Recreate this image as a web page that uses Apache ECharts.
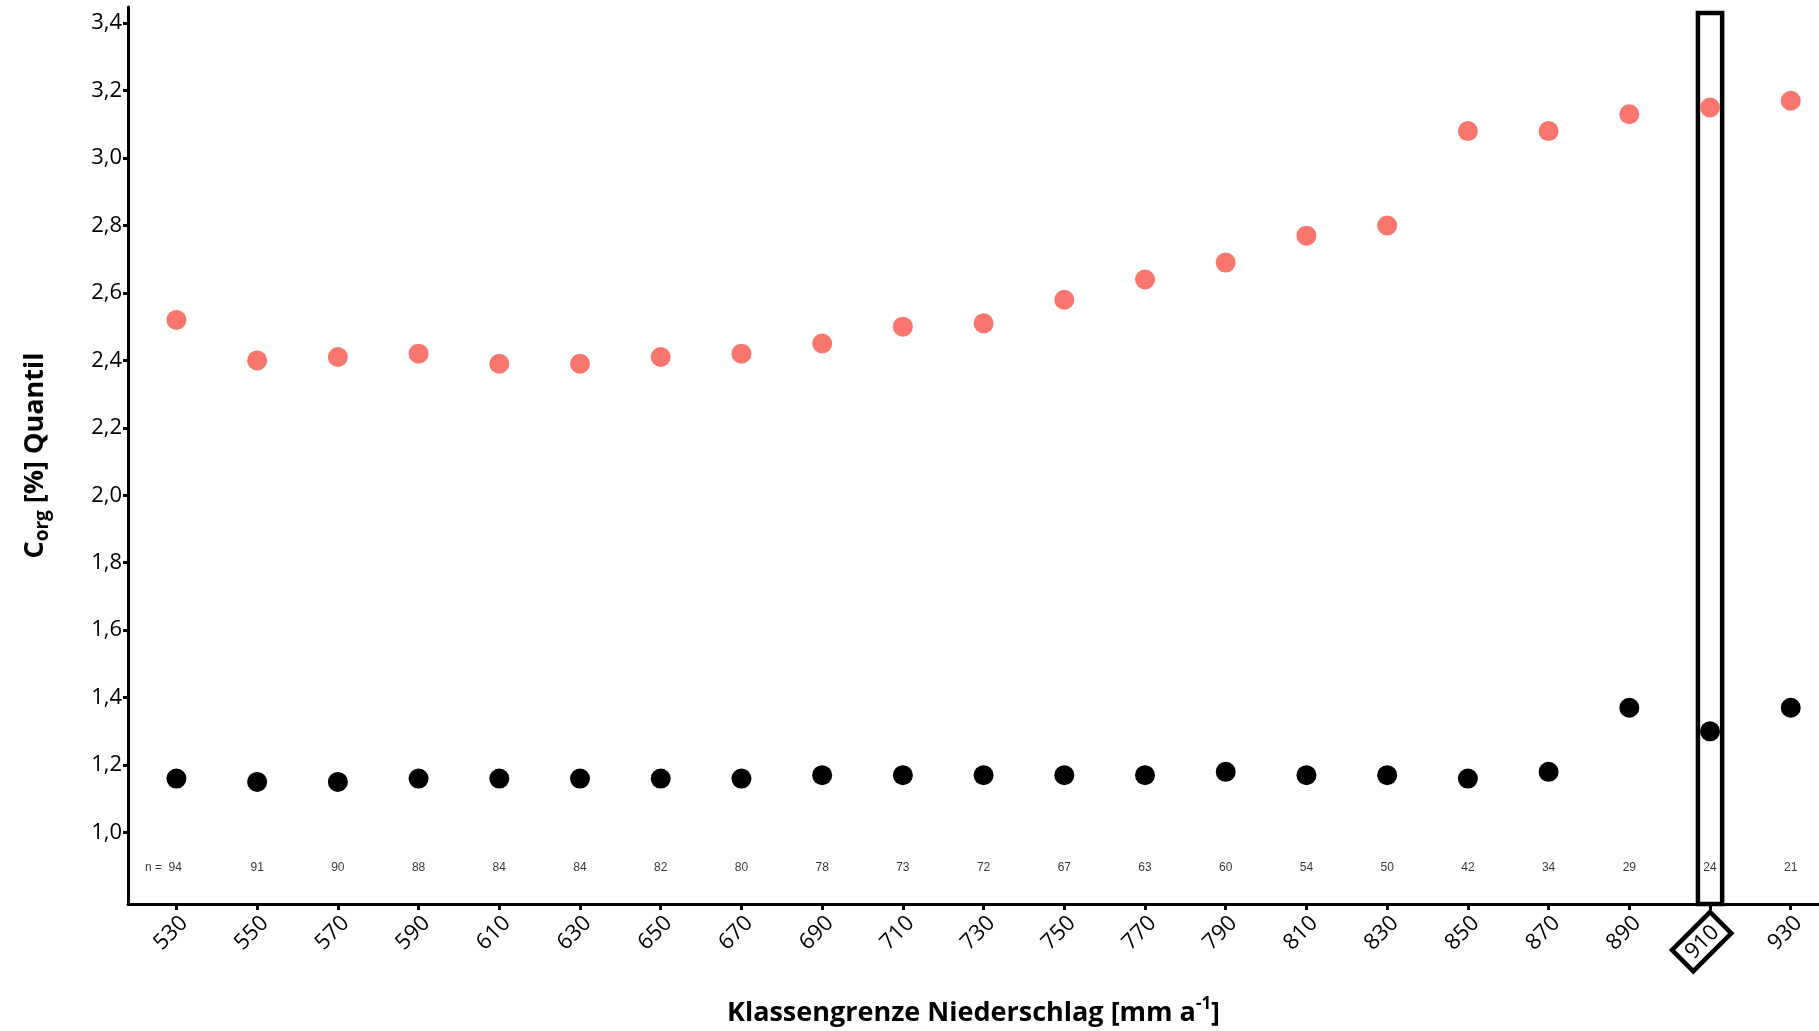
<!DOCTYPE html>
<html><head><meta charset="utf-8">
<script src="https://cdn.jsdelivr.net/npm/echarts@6/dist/echarts.min.js"></script>
<style>html,body{margin:0;padding:0;background:#fff}#c{width:1819px;height:1031px}</style>
</head><body><div id="c"></div>
<script>
const classes = [530,550,570,590,610,630,650,670,690,710,730,750,770,790,810,830,850,870,890,910,930];
const upperQuantile = [2.52,2.40,2.41,2.42,2.39,2.39,2.41,2.42,2.45,2.50,2.51,2.58,2.64,2.69,2.77,2.80,3.08,3.08,3.13,3.15,3.17];
const lowerQuantile = [1.16,1.15,1.15,1.16,1.16,1.16,1.16,1.16,1.17,1.17,1.17,1.17,1.17,1.18,1.17,1.17,1.16,1.18,1.37,1.30,1.37];
const nCounts = [94,91,90,88,84,84,82,80,78,73,72,67,63,60,54,50,42,34,29,24,21];
const yTicks = [1.0,1.2,1.4,1.6,1.8,2.0,2.2,2.4,2.6,2.8,3.0,3.2,3.4];
const highlightClass = 910;
const highlightHalfWidth = 3;
const highlightTop = 3.43;
const nLabelY = 0.9;
const yMin = 0.788, yMax = 3.448;
const xMin = 518, xMax = 937;

const FONT = 'Open Sans';
const chart = echarts.init(document.getElementById('c'), null, {renderer: 'canvas'});
chart.setOption({
  animation: false,
  backgroundColor: '#fff',
  grid: {left: 128, top: 7, bottom: 127, right: 0, containLabel: false, outerBoundsMode: 'none'},
  xAxis: {
    type: 'value', min: xMin, max: xMax,
    name: 'Klassengrenze Niederschlag [mm a{sup|-1}]',
    nameLocation: 'middle', nameGap: 92,
    nameTextStyle: {fontFamily: FONT, fontWeight: 'bold', fontSize: 27, color: '#000', lineHeight: 34,
      rich: {sup: {fontFamily: FONT, fontWeight: 'bold', fontSize: 17, color: '#000', verticalAlign: 'top', lineHeight: 17}}},
    axisLine: {lineStyle: {color: '#000', width: 3}},
    axisTick: {customValues: classes, length: 6, lineStyle: {color: '#000', width: 3}},
    axisLabel: {customValues: classes, rotate: 45, margin: 8, fontFamily: FONT, fontSize: 22, color: '#000',
      verticalAlign: 'top',
      formatter: v => v === highlightClass ? '{hl|' + v + '}' : String(v),
      rich: {hl: {fontFamily: FONT, fontSize: 22, color: '#000', borderColor: '#000', borderWidth: 4.5, padding: [5, 8, 3, 8]}}},
    splitLine: {show: false}
  },
  yAxis: {
    type: 'value', min: yMin, max: yMax,
    name: 'C{sub|org} [%] Quantil',
    nameLocation: 'middle', nameGap: 76,
    nameTextStyle: {fontFamily: FONT, fontWeight: 'bold', fontSize: 27, color: '#000', lineHeight: 34,
      rich: {sub: {fontFamily: FONT, fontWeight: 'bold', fontSize: 19, color: '#000', verticalAlign: 'bottom', lineHeight: 17}}},
    axisLine: {show: true, lineStyle: {color: '#000', width: 3}},
    axisTick: {show: true, customValues: yTicks, length: 5, lineStyle: {color: '#000', width: 3}},
    axisLabel: {customValues: yTicks, margin: 6, fontFamily: FONT, fontSize: 22, color: '#000',
      formatter: v => v.toFixed(1).replace('.', ',')},
    splitLine: {show: false}
  },
  series: [
    {
      type: 'scatter', name: 'upper', symbolSize: 20,
      itemStyle: {color: '#F8766D', opacity: 1},
      data: classes.map((c, i) => [c, upperQuantile[i]]), z: 3
    },
    {
      type: 'scatter', name: 'lower', symbolSize: 20,
      itemStyle: {color: '#000', opacity: 1},
      data: classes.map((c, i) => [c, lowerQuantile[i]]), z: 3
    },
    {
      type: 'scatter', name: 'n', symbolSize: 0, silent: true,
      data: classes.map((c, i) => ({
        value: [c, nLabelY],
        label: i === 0 ? {formatter: 'n =  ' + nCounts[i], offset: [-13, 1]} : {formatter: String(nCounts[i]), offset: [0, 1]}
      })),
      label: {show: true, position: 'inside', fontFamily: 'Liberation Sans', fontSize: 12, color: '#000'},
      markArea: {
        silent: true,
        itemStyle: {color: 'rgba(0,0,0,0)', borderColor: '#000', borderWidth: 4.5},
        data: [[{coord: [highlightClass - highlightHalfWidth, yMin]}, {coord: [highlightClass + highlightHalfWidth, highlightTop]}]]
      },
      z: 4
    }
  ]
});
</script></body></html>
